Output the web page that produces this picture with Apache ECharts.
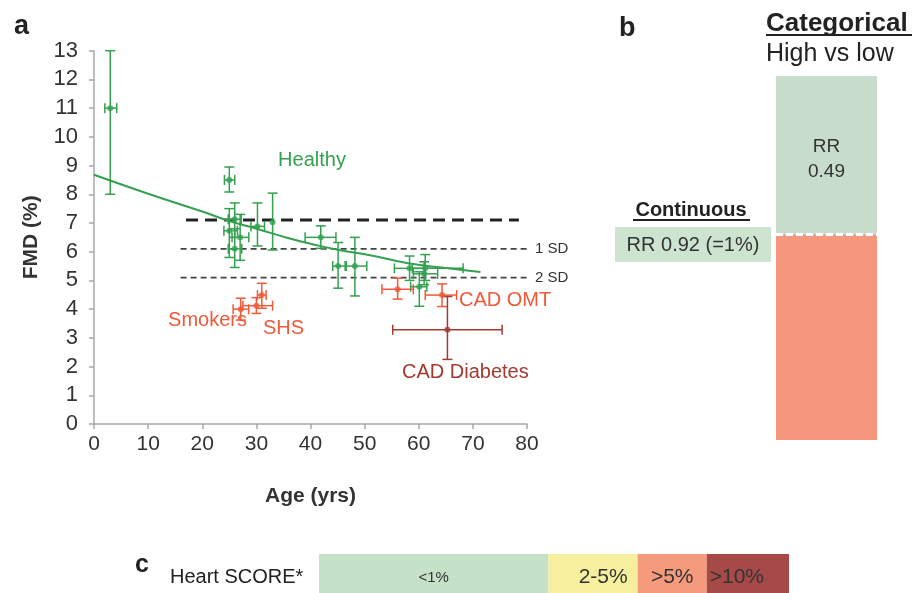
<!DOCTYPE html>
<html><head><meta charset="utf-8">
<script src="https://cdn.jsdelivr.net/npm/echarts@6/dist/echarts.min.js"></script>
<style>html,body{margin:0;padding:0;background:#fff}#c{width:912px;height:593px}</style>
</head><body><div id="c"></div>
<script>
// ---------- Panel a: FMD vs age ----------
const xTicks = [0, 10, 20, 30, 40, 50, 60, 70, 80];
const yTicks = [0,1,2,3,4,5,6,7,8,9,10,11,12,13];

const healthyAge    = [3,   25,   26,   25,   27,   26,   30.2, 33,   41.9, 45.1, 48.2, 58.3, 61.2, 61,   60.1];
const healthyFmd    = [11,  8.5,  7.13, 6.73, 6.5,  6.1,  6.88, 7.03, 6.5,  5.5,  5.5,  5.42, 5.42, 5.23, 4.78];
const healthyAgeLo  = [2,   24.1, 24.8, 24,   25.5, 24.8, 29,   33,   39,   44.1, 46.4, 55.5, 58.8, 59,   58.5];
const healthyAgeHi  = [4.2, 26,   27.2, 26.5, 28.6, 27.3, 31.5, 33,   44.7, 46.6, 50.4, 61,   68.2, 63.5, 61.5];
const healthyFmdLo  = [8,   8.08, 6.5,  5.8,  5.7,  5.45, 6.2,  6.06, 6.12, 4.73, 4.46, 5.0,  5.0,  4.85, 4.1];
const healthyFmdHi  = [13,  8.95, 7.7,  7.5,  7.3,  6.8,  7.7,  8.04, 6.9,  6.32, 6.5,  5.85, 5.9,  5.65, 5.3];

// smokers, SHS, CAD OMT
const riskAge   = [27.1, 30.0, 31.0, 56.1, 64.3];
const riskFmd   = [4.0,  4.12, 4.49, 4.69, 4.49];
const riskAgeLo = [25.7, 27.5, 30.2, 53.2, 61.2];
const riskAgeHi = [28.6, 33.0, 31.8, 59.0, 67.0];
const riskFmdLo = [3.62, 3.85, 4.03, 4.35, 4.09];
const riskFmdHi = [4.38, 4.4,  4.9,  5.08, 4.88];

// CAD diabetes
const diabAge   = [65.3];
const diabFmd   = [3.28];
const diabAgeLo = [55.2];
const diabAgeHi = [75.4];
const diabFmdLo = [2.25];
const diabFmdHi = [4.44];

// fitted curve of healthy subjects
const fitAge = [0,    10,   20,   25,   30,   36,   40,   45,   51,   58,   65,   71.4];
const fitFmd = [8.68, 8.02, 7.40, 7.07, 6.80, 6.47, 6.28, 6.07, 5.88, 5.60, 5.43, 5.29];

// reference levels: mean, 1 SD, 2 SD
const refMean = 7.1, ref1SD = 6.1, ref2SD = 5.1;
const refMeanAges = [17, 78.5];
const refSDAges = [16, 80.5];

// ---------- Panel b ----------
const categoricalParts = [56.5, 43.5];   // lower (high risk) / upper (RR 0.49)
const categoricalRR = '0.49';
const continuousRR = 'RR 0.92 (=1%)';

// ---------- Panel c ----------
const scoreLabels = ['<1%', '2-5%', '>5%', '>10%'];
const scoreShares = [48.8, 19.0, 14.7, 17.5];

const GREEN = '#34a050', RED = '#ef5a3a', DARK = '#a33a30';
const FONT = '"Liberation Sans", Arial, sans-serif';

function pack(a, f, al, ah, fl, fh) { return a.map((v, i) => [v, f[i], al[i], ah[i], fl[i], fh[i]]); }

function errRender(color) {
  return function (params, api) {
    const x = api.value(0), y = api.value(1), xl = api.value(2), xh = api.value(3), yl = api.value(4), yh = api.value(5);
    const st = { stroke: color, lineWidth: 1.5 };
    const ch = [];
    const cap = 5;
    if (yh > yl) {
      const a = api.coord([x, yl]), b = api.coord([x, yh]);
      ch.push({ type: 'line', shape: { x1: a[0], y1: a[1], x2: b[0], y2: b[1] }, style: st });
      ch.push({ type: 'line', shape: { x1: a[0] - cap, y1: a[1], x2: a[0] + cap, y2: a[1] }, style: st });
      ch.push({ type: 'line', shape: { x1: b[0] - cap, y1: b[1], x2: b[0] + cap, y2: b[1] }, style: st });
    }
    if (xh > xl) {
      const a = api.coord([xl, y]), b = api.coord([xh, y]);
      ch.push({ type: 'line', shape: { x1: a[0], y1: a[1], x2: b[0], y2: b[1] }, style: st });
      ch.push({ type: 'line', shape: { x1: a[0], y1: a[1] - cap, x2: a[0], y2: a[1] + cap }, style: st });
      ch.push({ type: 'line', shape: { x1: b[0], y1: b[1] - cap, x2: b[0], y2: b[1] + cap }, style: st });
    }
    return { type: 'group', children: ch };
  };
}

function errSeries(data, color) {
  return {
    type: 'custom', xAxisIndex: 0, yAxisIndex: 0, renderItem: errRender(color),
    data: data, encode: { x: [0, 2, 3], y: [1, 4, 5] }, z: 3, silent: true
  };
}
function ptSeries(a, f, color) {
  return {
    type: 'scatter', xAxisIndex: 0, yAxisIndex: 0, symbol: 'circle', symbolSize: 6,
    itemStyle: { color: color }, data: a.map((v, i) => [v, f[i]]), z: 4, silent: true
  };
}
function hLine(level, ages, style, label) {
  return {
    type: 'line', xAxisIndex: 0, yAxisIndex: 0, symbol: 'none', silent: true,
    data: ages.map(a => [a, level]), lineStyle: style, z: 2,
    endLabel: label ? { show: true, formatter: label, color: '#333', fontSize: 15, fontFamily: FONT, distance: 6 } : { show: false }
  };
}

const axisCommon = {
  axisLine: { show: true, lineStyle: { color: '#a8a8a8', width: 1.5 } },
  axisTick: { show: true, inside: false, length: 5, lineStyle: { color: '#a8a8a8', width: 1.5 } },
  splitLine: { show: false },
};

const chart = echarts.init(document.getElementById('c'), null, { renderer: 'canvas' });
const option = {
  animation: false,
  backgroundColor: '#fff',
  grid: [
    { left: 94, right: 385, top: 50.7, bottom: 169, outerBoundsMode: 'none' },
    { left: 776, width: 101, top: 76, height: 364, outerBoundsMode: 'none' },
    { left: 319, right: 123, top: 554, bottom: -12, outerBoundsMode: 'none' }
  ],
  xAxis: [
    Object.assign({ type: 'value', gridIndex: 0, min: xTicks[0], max: xTicks[xTicks.length - 1], interval: 10,
      axisLabel: { fontSize: 21, color: '#333', fontFamily: FONT, margin: 10 },
      name: 'Age (yrs)', nameLocation: 'middle', nameGap: 62,
      nameTextStyle: { fontSize: 21, fontWeight: 'bold', color: '#333', fontFamily: FONT } }, axisCommon),
    { type: 'category', gridIndex: 1, data: ['High vs low'], show: false },
    { type: 'value', gridIndex: 2, min: 0, max: 100, show: false }
  ],
  yAxis: [
    Object.assign({ type: 'value', gridIndex: 0, min: yTicks[0], max: yTicks[yTicks.length - 1], interval: 1,
      axisLabel: { fontSize: 22, color: '#333', fontFamily: FONT, margin: 16 },
      name: 'FMD (%)', nameLocation: 'middle', nameGap: 52, nameRotate: 90,
      nameTextStyle: { fontSize: 21, fontWeight: 'bold', color: '#333', fontFamily: FONT } }, axisCommon),
    { type: 'value', gridIndex: 1, min: 0, max: 100, show: false },
    { type: 'category', gridIndex: 2, data: ['Heart SCORE'], show: false }
  ],
  series: [
    hLine(refMean, refMeanAges, { color: '#222', width: 3, type: [12, 7] }, null),
    hLine(ref1SD, refSDAges, { color: '#444', width: 1.8, type: [6, 4] }, '1 SD'),
    hLine(ref2SD, refSDAges, { color: '#444', width: 1.8, type: [6, 4] }, '2 SD'),
    {
      type: 'line', xAxisIndex: 0, yAxisIndex: 0, symbol: 'none', smooth: true, silent: true,
      data: fitAge.map((a, i) => [a, fitFmd[i]]), lineStyle: { color: GREEN, width: 2 }, z: 3
    },
    errSeries(pack(healthyAge, healthyFmd, healthyAgeLo, healthyAgeHi, healthyFmdLo, healthyFmdHi), GREEN),
    errSeries(pack(riskAge, riskFmd, riskAgeLo, riskAgeHi, riskFmdLo, riskFmdHi), RED),
    errSeries(pack(diabAge, diabFmd, diabAgeLo, diabAgeHi, diabFmdLo, diabFmdHi), DARK),
    ptSeries(healthyAge, healthyFmd, GREEN),
    ptSeries(riskAge, riskFmd, RED),
    ptSeries(diabAge, diabFmd, DARK),
    // panel b
    {
      type: 'bar', xAxisIndex: 1, yAxisIndex: 1, stack: 'cat', barWidth: '100%', silent: true,
      data: [categoricalParts[0]], itemStyle: { color: '#f4977c' },
      markLine: { silent: true, symbol: 'none', label: { show: false },
        lineStyle: { color: '#fff', width: 3, type: [7, 3] }, data: [{ yAxis: categoricalParts[0] }] }
    },
    {
      type: 'bar', xAxisIndex: 1, yAxisIndex: 1, stack: 'cat', barWidth: '100%', silent: true,
      data: [categoricalParts[1]], itemStyle: { color: '#c7dcca' },
      label: { show: true, position: 'inside', formatter: 'RR\n' + categoricalRR, fontSize: 19, lineHeight: 25,
        color: '#333', fontFamily: FONT, offset: [0, 4] }
    },
    // panel c
    ...scoreShares.map((v, i) => ({
      type: 'bar', xAxisIndex: 2, yAxisIndex: 2, stack: 'score', barWidth: '100%', silent: true,
      data: [v], itemStyle: { color: ['#c5e1c7', '#f6f09e', '#f59a7d', '#a64a48'][i] },
      label: { show: true, formatter: scoreLabels[i], fontFamily: FONT, color: '#333',
        fontSize: i === 0 ? 15 : 21,
        position: i === 1 ? 'insideRight' : (i === 3 ? 'insideLeft' : 'inside'),
        distance: i === 1 ? 10 : 3, offset: [0, -2] }
    }))
  ],
  graphic: [
    { type: 'text', left: 14, top: 13, style: { text: 'a', font: 'bold 27px ' + FONT, fill: '#222' } },
    { type: 'text', left: 619, top: 15, style: { text: 'b', font: 'bold 27px ' + FONT, fill: '#222' } },
    { type: 'text', left: 135, top: 553, style: { text: 'c', font: 'bold 25px ' + FONT, fill: '#222' } },
    { type: 'text', x: 312, y: 160, style: { text: 'Healthy', font: '20px ' + FONT, fill: GREEN, align: 'center', verticalAlign: 'middle' } },
    { type: 'text', x: 247, y: 320, style: { text: 'Smokers', font: '20px ' + FONT, fill: RED, align: 'right', verticalAlign: 'middle' } },
    { type: 'text', x: 263, y: 328, style: { text: 'SHS', font: '20px ' + FONT, fill: RED, align: 'left', verticalAlign: 'middle' } },
    { type: 'text', x: 459, y: 300, style: { text: 'CAD OMT', font: '20px ' + FONT, fill: RED, align: 'left', verticalAlign: 'middle' } },
    { type: 'text', x: 402, y: 372, style: { text: 'CAD Diabetes', font: '20px ' + FONT, fill: DARK, align: 'left', verticalAlign: 'middle' } },
    { type: 'text', x: 766, y: 24, style: { text: 'Categorical', font: 'bold 26px ' + FONT, fill: '#222', align: 'left', verticalAlign: 'middle' } },
    { type: 'rect', shape: { x: 766, y: 34, width: 146, height: 2 }, style: { fill: '#222' } },
    { type: 'text', x: 766, y: 54, style: { text: 'High vs low', font: '25px ' + FONT, fill: '#222', align: 'left', verticalAlign: 'middle' } },
    { type: 'text', x: 691, y: 210, style: { text: 'Continuous', font: 'bold 20px ' + FONT, fill: '#222', align: 'center', verticalAlign: 'middle' } },
    { type: 'rect', shape: { x: 633, y: 219, width: 117, height: 2 }, style: { fill: '#222' } },
    { type: 'rect', shape: { x: 615, y: 227, width: 156, height: 35 }, style: { fill: '#cde5d0' } },
    { type: 'text', x: 693, y: 245, style: { text: continuousRR, font: '20px ' + FONT, fill: '#333', align: 'center', verticalAlign: 'middle' } },
    { type: 'text', x: 170, y: 577, style: { text: 'Heart SCORE*', font: '20px ' + FONT, fill: '#222', align: 'left', verticalAlign: 'middle' } }
  ]
};
chart.setOption(option);
</script></body></html>
